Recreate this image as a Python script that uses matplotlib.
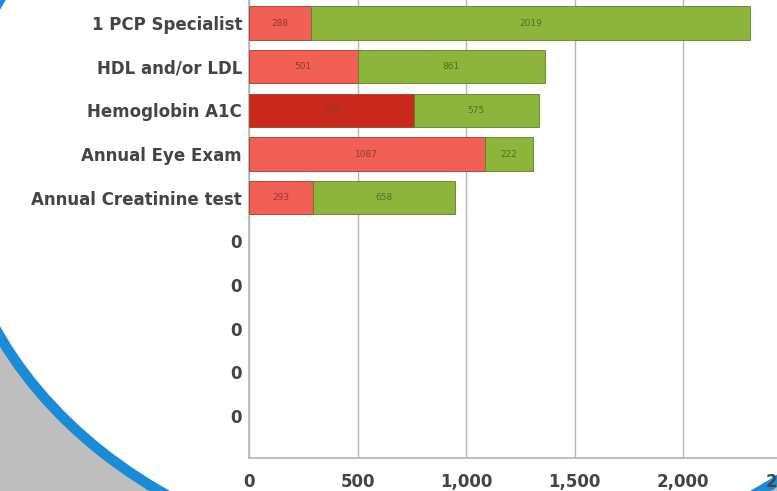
import numpy as np
import matplotlib
matplotlib.use("Agg")
import matplotlib.pyplot as plt
from matplotlib.patches import Ellipse

# Chart data
categories = ["1 PCP Specialist", "HDL and/or LDL", "Hemoglobin A1C",
              "Annual Eye Exam", "Annual Creatinine test", "0", "0", "0", "0", "0"]
not_met = [288, 501, 760, 1087, 293, 0, 0, 0, 0, 0]
met = [2019, 861, 575, 222, 658, 0, 0, 0, 0, 0]
x_ticks = [0, 500, 1000, 1500, 2000, 2500]
x_tick_labels = ["0", "500", "1,000", "1,500", "2,000", "2,500"]

W, H = 777, 491
fig = plt.figure(figsize=(W / 100, H / 100), dpi=100)

# Background decoration: grey page with a white rounded panel and blue border
bg = fig.add_axes([0, 0, 1, 1])
bg.set_xlim(0, W)
bg.set_ylim(H, 0)
bg.axis("off")
bg.add_patch(plt.Rectangle((0, 0), W, H, color="#bebebe", zorder=0))
bg.add_patch(Ellipse((460, 168), 2 * 507, 2 * 401, facecolor="white",
                     edgecolor="#1b8bd8", linewidth=7.5, zorder=1))

# Chart axes (extends past the right and top edge, like the cropped original)
left_px, bottom_px = 249, 458
px_per_unit = 0.217
xmax = 2500
ax_w = xmax * px_per_unit
row = 43.67
ylo, yhi = 9.96, -0.96
ax_h = (yhi - ylo) * -row
ax = fig.add_axes([left_px / W, (H - bottom_px) / H, ax_w / W, ax_h / H])
ax.set_facecolor("none")

y = np.arange(len(categories))
red_colors = ["#f25f55"] * len(categories)
red_colors[2] = "#c9281c"
red_lw = [0.6 if v > 0 else 0 for v in not_met]
green_lw = [0.6 if v > 0 else 0 for v in met]

ax.barh(y, not_met, height=0.76, color=red_colors, edgecolor="#a33a30",
        linewidth=red_lw, zorder=3)
ax.barh(y, met, left=not_met, height=0.76, color="#8db53c",
        edgecolor="#5f7f25", linewidth=green_lw, zorder=3)

for i in range(len(categories)):
    if not_met[i] > 0:
        ax.text(not_met[i] / 2, y[i], str(not_met[i]), ha="center", va="center",
                fontsize=6.5, color="#93382e", zorder=4)
    if met[i] > 0:
        ax.text(not_met[i] + met[i] / 2, y[i], str(met[i]), ha="center",
                va="center", fontsize=6.5, color="#536f22", zorder=4)

ax.set_xlim(0, xmax)
ax.set_ylim(ylo, yhi)
ax.set_xticks(x_ticks)
ax.set_xticklabels(x_tick_labels)
ax.set_yticks(y)
ax.set_yticklabels(categories)
ax.tick_params(axis="both", length=0, labelsize=12, colors="#444444")
for lbl in ax.get_xticklabels() + ax.get_yticklabels():
    lbl.set_fontweight("bold")
ax.tick_params(axis="y", pad=5)
ax.tick_params(axis="x", pad=11)
ax.grid(axis="x", color="#b5b5b5", linewidth=1, zorder=0)
for s in ["top", "right"]:
    ax.spines[s].set_visible(False)
for s in ["left", "bottom"]:
    ax.spines[s].set_color("#b5b5b5")
    ax.spines[s].set_linewidth(1.2)

plt.savefig("out.png", dpi=100)
